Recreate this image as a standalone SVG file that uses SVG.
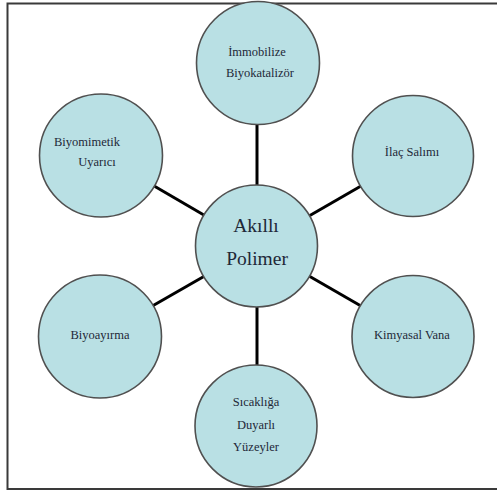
<svg xmlns="http://www.w3.org/2000/svg" width="497" height="491" viewBox="0 0 497 491">
  <style>
    .node { fill: #b9e0e4; stroke: #505050; stroke-width: 1.6; }
    .lbl { font-family: 'Liberation Serif', 'Times New Roman', 'DejaVu Serif', serif; font-size: 12.5px; fill: #1e2838; text-anchor: middle; }
    .big { font-size: 19.5px; }
    .edge { stroke: #000; stroke-width: 3; fill: none; }
  </style>
  <rect x="0" y="0" width="497" height="491" fill="#ffffff"/>
  <rect id="frame" x="7.5" y="3.5" width="500" height="485.5" fill="none" stroke="#3a3a3a" stroke-width="2"/>
  <g id="connectors">
    <line class="edge" x1="257" y1="246" x2="257" y2="63"/>
    <line class="edge" x1="257" y1="246" x2="413" y2="156"/>
    <line class="edge" x1="257" y1="246" x2="413" y2="336"/>
    <line class="edge" x1="257" y1="246" x2="257" y2="426"/>
    <line class="edge" x1="257" y1="246" x2="100" y2="336"/>
    <line class="edge" x1="257" y1="246" x2="101" y2="155"/>
  </g>
  <g id="center">
    <circle class="node" cx="256.5" cy="246" r="61"/>
    <text class="lbl big" x="256" y="232" font-family="Liberation Serif, serif">Akıllı</text>
    <text class="lbl big" x="257" y="265" font-family="Liberation Serif, serif">Polimer</text>
  </g>
  <g id="immobilize">
    <circle class="node" cx="258" cy="63" r="61.5"/>
    <text class="lbl" x="257" y="56">İmmobilize</text>
    <text class="lbl" x="260" y="77">Biyokatalizör</text>
  </g>
  <g id="ilac">
    <circle class="node" cx="413" cy="156" r="60.5"/>
    <text class="lbl" x="412" y="156">İlaç Salımı</text>
  </g>
  <g id="kimyasal">
    <circle class="node" cx="413" cy="336.5" r="61"/>
    <text class="lbl" x="412" y="339">Kimyasal Vana</text>
  </g>
  <g id="sicaklik">
    <circle class="node" cx="256" cy="426" r="61"/>
    <text class="lbl" x="256" y="406">Sıcaklığa</text>
    <text class="lbl" x="256" y="429">Duyarlı</text>
    <text class="lbl" x="256" y="451">Yüzeyler</text>
  </g>
  <g id="biyoayirma">
    <circle class="node" cx="100" cy="336.5" r="61.5"/>
    <text class="lbl" x="100" y="339">Biyoayırma</text>
  </g>
  <g id="biyomimetik">
    <circle class="node" cx="101" cy="155.5" r="61.5"/>
    <text class="lbl" x="87" y="146">Biyomimetik</text>
    <text class="lbl" x="97" y="166">Uyarıcı</text>
  </g>
</svg>
